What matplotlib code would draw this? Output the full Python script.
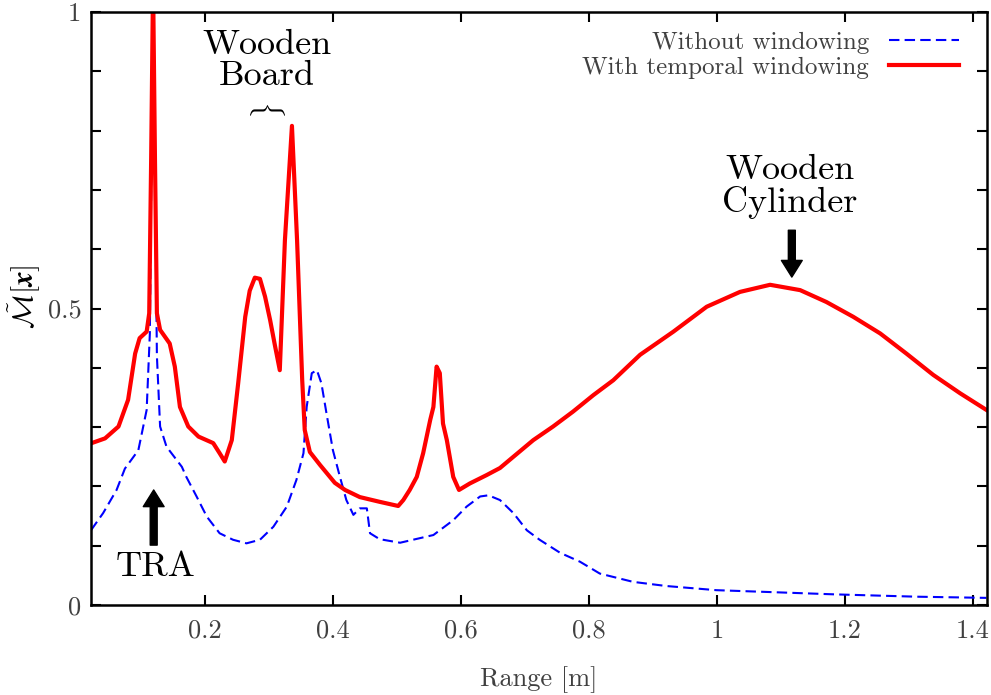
import numpy as np
import matplotlib
matplotlib.use('Agg')
from matplotlib import pyplot as plt

# fonts: computer modern look
plt.rcParams['font.family'] = 'serif'
plt.rcParams['font.serif'] = ['cmr10']
plt.rcParams['mathtext.fontset'] = 'cm'
plt.rcParams['axes.unicode_minus'] = False

# range [m] and normalised map value, with temporal windowing
range_win = [0.023, 0.044, 0.065, 0.080, 0.091, 0.098, 0.109, 0.113, 0.116, 0.119, 0.122,
             0.125, 0.130, 0.145, 0.153, 0.161, 0.174, 0.190, 0.213, 0.223, 0.231,
             0.242, 0.252, 0.263, 0.270, 0.278, 0.286, 0.294, 0.302, 0.309, 0.317,
             0.325, 0.336, 0.344, 0.352, 0.356, 0.364, 0.380, 0.403, 0.419, 0.442,
             0.473, 0.502, 0.510, 0.520, 0.531, 0.541, 0.552, 0.557, 0.562, 0.567,
             0.572, 0.578, 0.588, 0.597, 0.614, 0.640, 0.661, 0.682, 0.713, 0.744,
             0.775, 0.807, 0.838, 0.880, 0.932, 0.984, 1.036, 1.083, 1.130, 1.171,
             1.213, 1.255, 1.296, 1.338, 1.380, 1.421]
value_win = [0.273, 0.281, 0.301, 0.346, 0.424, 0.450, 0.461, 0.492, 0.750, 1.050, 0.750,
             0.492, 0.464, 0.441, 0.402, 0.334, 0.301, 0.284, 0.273, 0.256, 0.242,
             0.278, 0.374, 0.486, 0.530, 0.552, 0.550, 0.520, 0.480, 0.440, 0.396,
             0.615, 0.808, 0.615, 0.380, 0.295, 0.258, 0.236, 0.206, 0.194, 0.182,
             0.174, 0.167, 0.177, 0.194, 0.216, 0.256, 0.312, 0.334, 0.402, 0.391,
             0.306, 0.278, 0.216, 0.194, 0.205, 0.219, 0.231, 0.250, 0.278, 0.301,
             0.326, 0.354, 0.379, 0.422, 0.461, 0.503, 0.528, 0.540, 0.531, 0.511,
             0.486, 0.458, 0.424, 0.388, 0.357, 0.329]

# without windowing
range_raw = [0.022, 0.041, 0.062, 0.075, 0.096, 0.109, 0.114, 0.119, 0.125, 0.130, 0.140,
             0.164, 0.171, 0.187, 0.203, 0.223, 0.244, 0.265, 0.286, 0.307,
             0.328, 0.343, 0.354, 0.359, 0.367, 0.375, 0.382, 0.390, 0.400, 0.411,
             0.421, 0.432, 0.442, 0.453, 0.458, 0.473, 0.505, 0.557, 0.588, 0.609,
             0.630, 0.643, 0.661, 0.682, 0.703, 0.723, 0.755, 0.786, 0.817, 0.869,
             0.921, 0.999, 1.078, 1.182, 1.312, 1.421]
value_raw = [0.126, 0.155, 0.194, 0.230, 0.261, 0.329, 0.458, 1.050, 0.420, 0.301, 0.267,
             0.233, 0.216, 0.183, 0.149, 0.121, 0.110, 0.104, 0.110, 0.132,
             0.166, 0.211, 0.256, 0.334, 0.391, 0.396, 0.374, 0.323, 0.261, 0.216,
             0.177, 0.152, 0.163, 0.163, 0.121, 0.111, 0.105, 0.118, 0.143, 0.166,
             0.183, 0.185, 0.177, 0.155, 0.126, 0.110, 0.088, 0.073, 0.053, 0.039,
             0.032, 0.025, 0.022, 0.018, 0.014, 0.012]

x_ticks = [0.2, 0.4, 0.6, 0.8, 1.0, 1.2, 1.4]
x_tick_labels = ['0.2', '0.4', '0.6', '0.8', '1', '1.2', '1.4']
y_ticks = [0.0, 0.1, 0.2, 0.3, 0.4, 0.5, 0.6, 0.7, 0.8, 0.9, 1.0]
y_tick_labels = ['0', '', '', '', '', '0.5', '', '', '', '', '1']

fig = plt.figure(figsize=(9.91, 6.95), dpi=100)
ax = fig.add_axes([0.0918, 0.1295, 0.9042, 0.8532])

ax.plot(range_raw, value_raw, color='#0000ff', lw=1.5, dashes=(5, 2.5),
        label='Without windowing')
ax.plot(range_win, value_win, color='#ff0000', lw=3.0,
        label='With temporal windowing')

ax.set_xlim(0.022, 1.422)
ax.set_ylim(0, 1)
ax.set_xticks(x_ticks)
ax.set_xticklabels(x_tick_labels)
ax.set_yticks(y_ticks)
ax.set_yticklabels(y_tick_labels)
ax.tick_params(direction='in', length=7, width=1.5, top=True, right=True,
               labelsize=19, labelcolor='#404040')
ax.tick_params(axis='x', pad=10)
ax.tick_params(axis='y', pad=7)
for s in ax.spines.values():
    s.set_linewidth(1.8)

ax.set_xlabel('Range [m]', fontsize=19, color='#404040')
ax.xaxis.set_label_coords(0.5, -0.103)
ax.set_ylabel(r'$\tilde{\mathcal{M}}[\boldsymbol{x}]$', fontsize=21)
ax.yaxis.set_label_coords(-0.054, 0.52)

leg = ax.legend(loc='upper right', bbox_to_anchor=(0.988, 0.997), frameon=False,
                markerfirst=False, fontsize=18, handlelength=2.8, labelspacing=0.1,
                labelcolor='#404040', borderpad=0.2)

# annotations
ax.text(0.297, 0.918, 'Wooden\nBoard', ha='center', va='center', fontsize=26,
        linespacing=1.0)
ax.text(0.297, 0.838, r'$\{$', ha='center', va='center', fontsize=21, rotation=-90)
ax.text(1.114, 0.705, 'Wooden\nCylinder', ha='center', va='center', fontsize=26,
        linespacing=1.0)
ax.text(0.123, 0.064, 'TRA', ha='center', va='center', fontsize=26)

arrow = dict(facecolor='black', edgecolor='black', width=5, headwidth=15,
             headlength=12, shrink=0)
ax.annotate('', xy=(0.12, 0.194), xytext=(0.12, 0.101), arrowprops=arrow)
ax.annotate('', xy=(1.117, 0.553), xytext=(1.117, 0.632), arrowprops=arrow)

fig.savefig('out.png', dpi=100)
